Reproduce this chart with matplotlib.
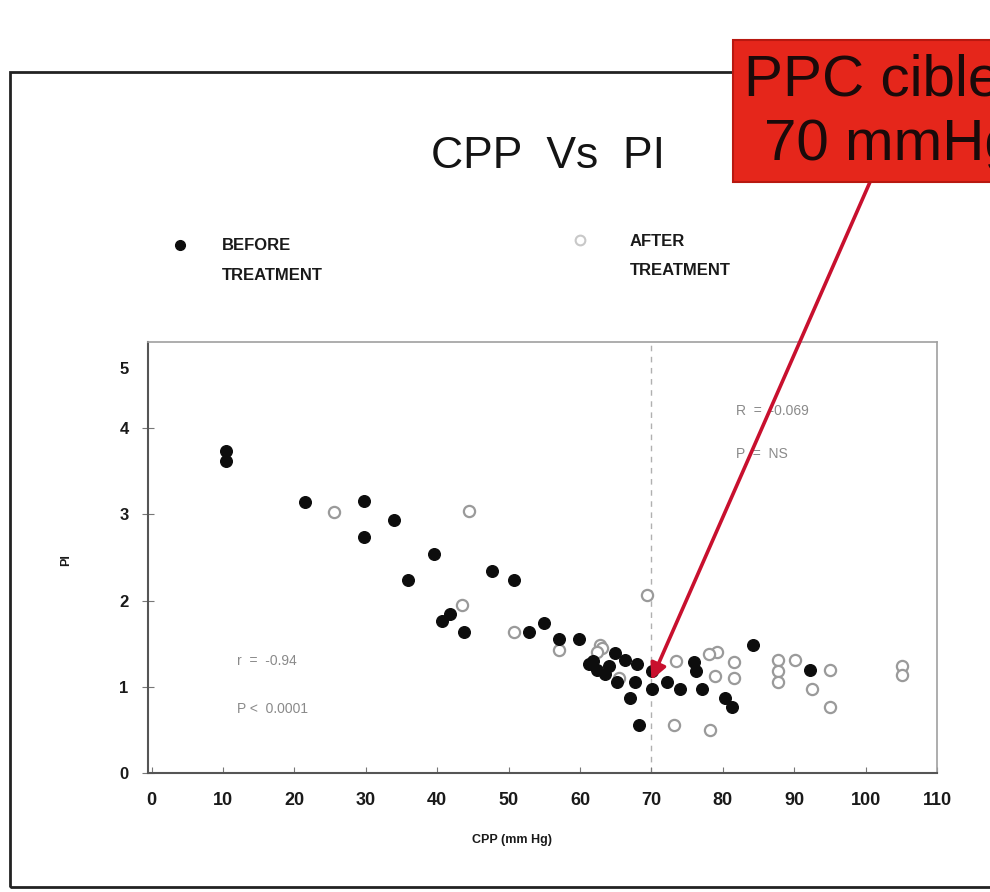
import matplotlib
matplotlib.use('Agg')
import matplotlib.pyplot as plt
from matplotlib.patches import Rectangle
from matplotlib.lines import Line2D

plt.rcParams['font.family'] = ['Liberation Sans', 'DejaVu Sans']

# CPP (mm Hg) / PI, before treatment (filled dots)
before_cpp = [10.4, 10.4, 21.5, 29.7, 29.7, 33.9, 35.9, 39.6, 40.7, 41.8,
              43.7, 47.7, 50.7, 52.8, 54.9, 57.0, 59.9, 61.2, 62.4, 64.9,
              64.0, 66.3, 68.0, 65.2, 67.7, 67.0, 70.1, 70.1, 72.2, 74.0,
              77.1, 75.9, 76.2, 80.3, 81.3, 84.3, 68.2, 92.2, 61.8, 63.5]
before_pi = [3.73, 3.62, 3.14, 3.15, 2.74, 2.94, 2.24, 2.54, 1.76, 1.85,
             1.63, 2.34, 2.24, 1.64, 1.74, 1.55, 1.56, 1.27, 1.20, 1.39,
             1.24, 1.31, 1.27, 1.06, 1.06, 0.87, 0.97, 1.18, 1.06, 0.98,
             0.98, 1.29, 1.18, 0.87, 0.77, 1.49, 0.56, 1.20, 1.30, 1.15]

# after treatment (open circles)
after_cpp = [25.6, 44.4, 43.5, 50.7, 57.0, 62.8, 63.1, 69.4, 73.1, 78.2,
             79.2, 78.9, 81.5, 81.5, 87.8, 87.8, 87.8, 90.1, 92.5, 95.0,
             95.0, 105.1, 105.1, 78.0, 62.4, 65.5, 73.5]
after_pi = [3.03, 3.04, 1.95, 1.64, 1.43, 1.49, 1.45, 2.07, 0.56, 0.50,
            1.40, 1.12, 1.29, 1.10, 1.31, 1.18, 1.06, 1.31, 0.98, 1.20,
            0.77, 1.24, 1.14, 1.38, 1.40, 1.10, 1.30]

x_ticks = [0, 10, 20, 30, 40, 50, 60, 70, 80, 90, 100, 110]
target_cpp = 70

W, H = 990, 892
fig = plt.figure(figsize=(9.9, 8.92), dpi=100)
fig.patch.set_facecolor('white')


def fx(px):
    return px / W


def fy(py):
    return 1 - py / H


# slide frame
fig.patches.append(Rectangle((fx(10), fy(887)), 1.2, (887 - 72) / H, transform=fig.transFigure,
                             fill=False, edgecolor='#222222', linewidth=2, clip_on=False))

ax = fig.add_axes([fx(148), fy(773), (937 - 148) / W, (773 - 342) / H])
ax.set_xlim(-0.5, 109.4)
ax.set_ylim(0, 5.0)

ax.axvline(target_cpp, color='#b0b0b0', linestyle=(0, (4, 4)), linewidth=1, zorder=1)

ax.scatter(after_cpp, after_pi, s=65, facecolors='white', edgecolors='#9a9a9a',
           linewidths=1.6, zorder=2)
ax.scatter(before_cpp, before_pi, s=70, color='#0d0d0d', zorder=3)

ax.set_xticks(x_ticks)
ax.set_xticklabels([str(v) for v in x_ticks], fontsize=13, fontweight='bold', color='#1a1a1a')
ax.set_yticks([0, 1, 2, 3, 4, 4.7])
ax.set_yticklabels(['0', '1', '2', '3', '4', '5'], fontsize=12, fontweight='bold', color='#1a1a1a')
ax.tick_params(axis='x', direction='in', length=4, pad=14, color='#777777')
ax.tick_params(axis='y', direction='inout', length=8, pad=10, color='#777777')
ax.yaxis.get_major_ticks()[-1].tick1line.set_visible(False)

for side in ['top', 'right']:
    ax.spines[side].set_color('#a0a0a0')
    ax.spines[side].set_linewidth(1.2)
for side in ['left', 'bottom']:
    ax.spines[side].set_color('#555555')
    ax.spines[side].set_linewidth(1.5)

# stats
ax.text(0.113, 0.25, 'r  =  -0.94', transform=ax.transAxes, fontsize=10, color='#8a8a8a')
ax.text(0.113, 0.14, 'P <  0.0001', transform=ax.transAxes, fontsize=10, color='#8a8a8a')
ax.text(0.745, 0.83, 'R  =  -0.069', transform=ax.transAxes, fontsize=10, color='#8a8a8a')
ax.text(0.745, 0.73, 'P  =  NS', transform=ax.transAxes, fontsize=10, color='#8a8a8a')

# labels and title
fig.text(fx(512), fy(840), 'CPP (mm Hg)', ha='center', va='center', fontsize=9,
         fontweight='bold', color='#1a1a1a')
fig.text(fx(66), fy(560), 'PI', ha='center', va='center', rotation=90, fontsize=9,
         fontweight='bold', color='#1a1a1a')
fig.text(fx(548), fy(156), 'CPP  Vs  PI', ha='center', va='center', fontsize=32,
         color='#141414')

# legend
fig.add_artist(Line2D([fx(180)], [fy(245)], marker='o', markersize=7, color='#0d0d0d',
                      linestyle='none', transform=fig.transFigure))
fig.add_artist(Line2D([fx(580)], [fy(240)], marker='o', markersize=7, markerfacecolor='white',
                      markeredgecolor='#c8c8c8', markeredgewidth=1.5, linestyle='none',
                      transform=fig.transFigure))
fig.text(fx(222), fy(246), 'BEFORE', ha='left', va='center', fontsize=12,
         fontweight='bold', color='#1a1a1a')
fig.text(fx(222), fy(276), 'TREATMENT', ha='left', va='center', fontsize=12,
         fontweight='bold', color='#1a1a1a')
fig.text(fx(630), fy(241), 'AFTER', ha='left', va='center', fontsize=12,
         fontweight='bold', color='#1a1a1a')
fig.text(fx(630), fy(271), 'TREATMENT', ha='left', va='center', fontsize=12,
         fontweight='bold', color='#1a1a1a')

# red callout (cut by the right edge, as on the slide)
fig.patches.append(Rectangle((fx(733), fy(182)), 0.3, (182 - 40) / H, transform=fig.transFigure,
                             facecolor='#e5261b', edgecolor='#b81810', linewidth=1.5,
                             clip_on=False, zorder=5))
fig.text(fx(744), fy(80), 'PPC cible', ha='left', va='center', fontsize=42,
         color='#1a0a0a', zorder=6)
fig.text(fx(764), fy(145), '70 mmHg', ha='left', va='center', fontsize=42,
         color='#1a0a0a', zorder=6)

ax.annotate('', xy=(target_cpp, 1.08), xycoords='data',
            xytext=(870, H - 182), textcoords='figure pixels',
            arrowprops=dict(arrowstyle='-|>', color='#c8102e', lw=2.6, mutation_scale=24,
                            shrinkA=0, shrinkB=0),
            zorder=6)

plt.savefig('out.png', dpi=100)
plt.close(fig)
